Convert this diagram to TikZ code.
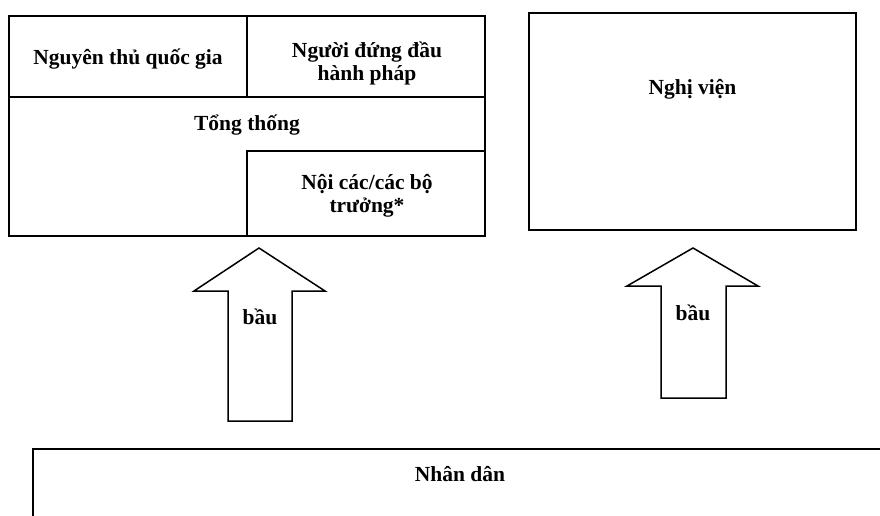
\documentclass[tikz,border=0pt]{standalone}
\usepackage{fontspec}
\setmainfont{Liberation Serif}
\usetikzlibrary{positioning}

\begin{document}
\begin{tikzpicture}[
    x = 1pt, y = -1pt,
    line width = 1.5pt,
    every node/.style = {inner sep = 0pt,
      font = \fontsize{21.5}{23}\selectfont\bfseries},
    organ/.style = {draw},
    caption/.style = {align = center},
    vote/.style = {draw, line join = miter},
    ]

    \useasboundingbox (0, 0) rectangle (880, 515);
    \clip (0, 0) rectangle (880, 515);

    \node at (247, 126)
    [organ, minimum width = 476pt, minimum height = 220pt, name = executive] {};
    \node at (128, 56.5)
    [organ, minimum width = 238pt, minimum height = 81pt, name = head_state] {};
    \node at (366, 56.5)
    [organ, minimum width = 238pt, minimum height = 81pt, name = head_exec] {};
    \node at (366, 193.5)
    [organ, minimum width = 238pt, minimum height = 85pt, name = cabinet] {};

    \node at (128, 59) [caption, name = head_state_text] {Nguyên thủ quốc gia};
    \node at (367, 63) [caption, name = head_exec_text] {Người đứng đầu\\hành pháp};
    \node at (247, 125) [caption, name = president] {Tổng thống};
    \node at (367, 196) [caption, name = cabinet_text] {Nội các/các bộ\\trưởng*};

    \node at (692.5, 121.5)
    [organ, minimum width = 327pt, minimum height = 217pt, name = parliament] {};
    \node [below = 66pt of parliament.north, name = parliament_text] {Nghị viện};

    \node at (460, 524)
    [organ, minimum width = 854pt, minimum height = 150pt, name = people] {};
    \node [below = 17pt of people.north, name = people_text] {Nhân dân};

    \draw [vote] (228, 421) -- (228, 291) -- (194, 291) -- (259, 248)
    -- (325, 291) -- (292, 291) -- (292, 421) -- cycle;
    \node at (260, 317) [name = vote_exec] {bầu};

    \draw [vote] (661, 398) -- (661, 286) -- (627, 286) -- (693, 248)
    -- (758, 286) -- (726, 286) -- (726, 398) -- cycle;
    \node at (693, 313) [name = vote_parl] {bầu};

  \end{tikzpicture}
\end{document}
